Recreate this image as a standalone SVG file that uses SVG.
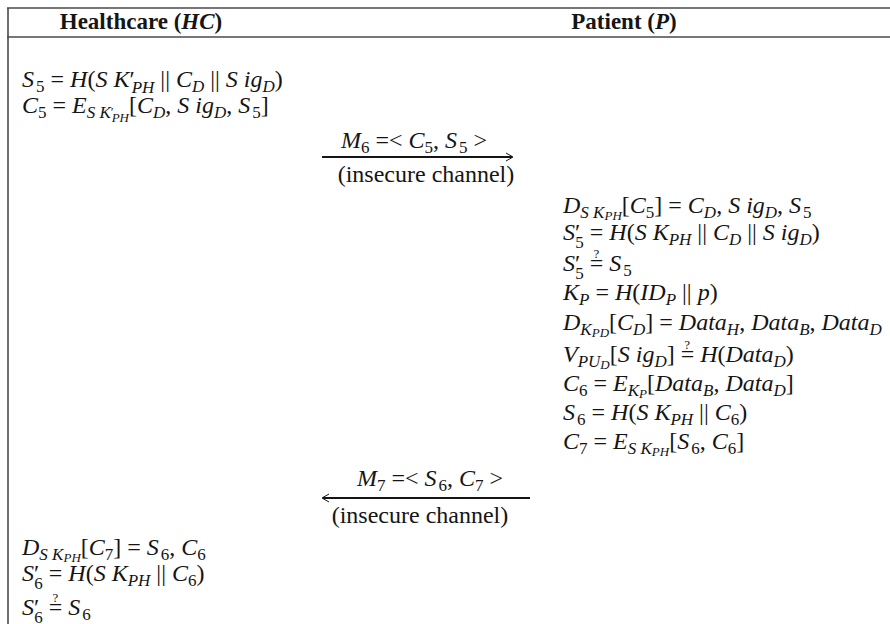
<svg xmlns="http://www.w3.org/2000/svg" width="890" height="624" viewBox="0 0 890 624">
  <style>
    .t { font-family: "Liberation Serif", "Times New Roman", serif; font-size: 24px; fill: #151515; }
    .h { font-family: "Liberation Serif", "Times New Roman", serif; font-size: 23px; font-weight: bold; fill: #151515; text-anchor: middle; }
    .i { font-style: italic; }
    .s { font-size: 17px; }
    .ss { font-size: 13px; }
    .q { font-size: 13px; }
    .rule { stroke: #4a4a4a; stroke-width: 1.6; fill: none; }
    .msg { stroke: #151515; stroke-width: 1.8; fill: none; }
    .head { stroke: #151515; stroke-width: 1; fill: none; }
  </style>

  <rect width="890" height="624" fill="#ffffff"/>

  <!-- table frame -->
  <g id="frame">
    <line class="rule" x1="7" y1="8" x2="890" y2="8"/>
    <line class="rule" x1="7" y1="37" x2="890" y2="37"/>
    <line class="rule" x1="8" y1="8" x2="8" y2="624"/>
  </g>

  <!-- column headers -->
  <g id="header">
    <text class="h" x="141" y="29">Healthcare (<tspan class="i">HC</tspan>)</text>
    <text class="h" x="624" y="29">Patient (<tspan class="i">P</tspan>)</text>
  </g>

  <!-- healthcare: build message M6 -->
  <g id="hc-send">
    <text class="t" x="22" y="87"><tspan class="i">S</tspan><tspan class="s" dx="2" dy="5">5</tspan><tspan dy="-5"> = </tspan><tspan class="i">H</tspan>(<tspan class="i">S K</tspan><tspan>′</tspan><tspan class="s i" dx="-3" dy="6">PH</tspan><tspan dy="-6"> || </tspan><tspan class="i">C</tspan><tspan class="s i" dy="5">D</tspan><tspan dy="-5"> || </tspan><tspan class="i">S ig</tspan><tspan class="s i" dy="5">D</tspan><tspan dy="-5">)</tspan></text>
    <text class="t" x="22" y="113"><tspan class="i">C</tspan><tspan class="s" dy="5">5</tspan><tspan dy="-5"> = </tspan><tspan class="i">E</tspan><tspan class="s i" dy="5">S K</tspan><tspan class="ss" dy="-2">′</tspan><tspan class="ss i" dx="-2" dy="6">PH</tspan><tspan dy="-9">[</tspan><tspan class="i">C</tspan><tspan class="s i" dy="5">D</tspan><tspan dy="-5">, </tspan><tspan class="i">S ig</tspan><tspan class="s i" dy="5">D</tspan><tspan dy="-5">, </tspan><tspan class="i">S</tspan><tspan class="s" dx="2" dy="5">5</tspan><tspan dy="-5">]</tspan></text>
  </g>

  <!-- patient: verify M6, build M7 -->
  <g id="p-process">
    <text class="t" x="563" y="213"><tspan class="i">D</tspan><tspan class="s i" dy="5">S K</tspan><tspan class="ss i" dy="2">PH</tspan><tspan dy="-7">[</tspan><tspan class="i">C</tspan><tspan class="s" dy="5">5</tspan><tspan dy="-5">] = </tspan><tspan class="i">C</tspan><tspan class="s i" dy="5">D</tspan><tspan dy="-5">, </tspan><tspan class="i">S ig</tspan><tspan class="s i" dy="5">D</tspan><tspan dy="-5">, </tspan><tspan class="i">S</tspan><tspan class="s" dx="2" dy="5">5</tspan></text>
    <text class="t" x="563" y="240"><tspan class="i">S</tspan><tspan>′</tspan><tspan class="s" dx="-5" dy="8">5</tspan><tspan dy="-8"> = </tspan><tspan class="i">H</tspan>(<tspan class="i">S K</tspan><tspan class="s i" dy="5">PH</tspan><tspan dy="-5"> || </tspan><tspan class="i">C</tspan><tspan class="s i" dy="5">D</tspan><tspan dy="-5"> || </tspan><tspan class="i">S ig</tspan><tspan class="s i" dy="5">D</tspan><tspan dy="-5">)</tspan></text>
    <text class="t" x="563" y="271"><tspan class="i">S</tspan><tspan>′</tspan><tspan class="s" dx="-5" dy="8">5</tspan><tspan dy="-8"> =</tspan><tspan class="q" dx="-9.9" dy="-13">?</tspan><tspan dx="4.1" dy="13"> </tspan><tspan class="i">S</tspan><tspan class="s" dx="2" dy="5">5</tspan></text>
    <text class="t" x="563" y="300"><tspan class="i">K</tspan><tspan class="s i" dy="5">P</tspan><tspan dy="-5"> = </tspan><tspan class="i">H</tspan>(<tspan class="i">ID</tspan><tspan class="s i" dy="5">P</tspan><tspan dy="-5"> || </tspan><tspan class="i">p</tspan>)</text>
    <text class="t" x="563" y="330"><tspan class="i">D</tspan><tspan class="s i" dy="5">K</tspan><tspan class="ss i" dy="2">PD</tspan><tspan dy="-7">[</tspan><tspan class="i">C</tspan><tspan class="s i" dy="5">D</tspan><tspan dy="-5">] = </tspan><tspan class="i">Data</tspan><tspan class="s i" dy="5">H</tspan><tspan dy="-5">, </tspan><tspan class="i">Data</tspan><tspan class="s i" dy="5">B</tspan><tspan dy="-5">, </tspan><tspan class="i">Data</tspan><tspan class="s i" dy="5">D</tspan></text>
    <text class="t" x="563" y="362"><tspan class="i">V</tspan><tspan class="s i" dy="5">PU</tspan><tspan class="ss i" dy="2">D</tspan><tspan dy="-7">[</tspan><tspan class="i">S ig</tspan><tspan class="s i" dy="5">D</tspan><tspan dy="-5">] =</tspan><tspan class="q" dx="-9.9" dy="-13">?</tspan><tspan dx="4.1" dy="13"> </tspan><tspan class="i">H</tspan>(<tspan class="i">Data</tspan><tspan class="s i" dy="5">D</tspan><tspan dy="-5">)</tspan></text>
    <text class="t" x="563" y="391"><tspan class="i">C</tspan><tspan class="s" dy="5">6</tspan><tspan dy="-5"> = </tspan><tspan class="i">E</tspan><tspan class="s i" dy="5">K</tspan><tspan class="ss i" dy="2">P</tspan><tspan dy="-7">[</tspan><tspan class="i">Data</tspan><tspan class="s i" dy="5">B</tspan><tspan dy="-5">, </tspan><tspan class="i">Data</tspan><tspan class="s i" dy="5">D</tspan><tspan dy="-5">]</tspan></text>
    <text class="t" x="563" y="420"><tspan class="i">S</tspan><tspan class="s" dx="2" dy="5">6</tspan><tspan dy="-5"> = </tspan><tspan class="i">H</tspan>(<tspan class="i">S K</tspan><tspan class="s i" dy="5">PH</tspan><tspan dy="-5"> || </tspan><tspan class="i">C</tspan><tspan class="s" dy="5">6</tspan><tspan dy="-5">)</tspan></text>
    <text class="t" x="563" y="449"><tspan class="i">C</tspan><tspan class="s" dy="5">7</tspan><tspan dy="-5"> = </tspan><tspan class="i">E</tspan><tspan class="s i" dy="5">S K</tspan><tspan class="ss i" dy="2">PH</tspan><tspan dy="-7">[</tspan><tspan class="i">S</tspan><tspan class="s" dx="2" dy="5">6</tspan><tspan dy="-5">, </tspan><tspan class="i">C</tspan><tspan class="s" dy="5">6</tspan><tspan dy="-5">]</tspan></text>
  </g>

  <!-- healthcare: verify M7 -->
  <g id="hc-verify">
    <text class="t" x="22" y="555"><tspan class="i">D</tspan><tspan class="s i" dy="5">S K</tspan><tspan class="ss i" dy="2">PH</tspan><tspan dy="-7">[</tspan><tspan class="i">C</tspan><tspan class="s" dy="5">7</tspan><tspan dy="-5">] = </tspan><tspan class="i">S</tspan><tspan class="s" dx="2" dy="5">6</tspan><tspan dy="-5">, </tspan><tspan class="i">C</tspan><tspan class="s" dy="5">6</tspan></text>
    <text class="t" x="22" y="581"><tspan class="i">S</tspan><tspan>′</tspan><tspan class="s" dx="-5" dy="8">6</tspan><tspan dy="-8"> = </tspan><tspan class="i">H</tspan>(<tspan class="i">S K</tspan><tspan class="s i" dy="5">PH</tspan><tspan dy="-5"> || </tspan><tspan class="i">C</tspan><tspan class="s" dy="5">6</tspan><tspan dy="-5">)</tspan></text>
    <text class="t" x="22" y="615"><tspan class="i">S</tspan><tspan>′</tspan><tspan class="s" dx="-5" dy="8">6</tspan><tspan dy="-8"> =</tspan><tspan class="q" dx="-9.9" dy="-13">?</tspan><tspan dx="4.1" dy="13"> </tspan><tspan class="i">S</tspan><tspan class="s" dx="2" dy="5">6</tspan></text>
  </g>

  <!-- messages over the insecure channel -->
  <g id="messages">
    <g id="msg-m6">
      <text class="t" x="414" y="148" text-anchor="middle"><tspan class="i">M</tspan><tspan class="s" dy="5">6</tspan><tspan dy="-5"> =&lt; </tspan><tspan class="i">C</tspan><tspan class="s" dy="5">5</tspan><tspan dy="-5">, </tspan><tspan class="i">S</tspan><tspan class="s" dx="2" dy="5">5</tspan><tspan dy="-5"> &gt;</tspan></text>
      <line class="msg" x1="322" y1="157" x2="512" y2="157"/>
      <path class="head" d="M506,153 L513,157 L506,161"/>
      <text class="t" x="426" y="182" text-anchor="middle">(insecure channel)</text>
    </g>
    <g id="msg-m7">
      <text class="t" x="430" y="486" text-anchor="middle"><tspan class="i">M</tspan><tspan class="s" dy="5">7</tspan><tspan dy="-5"> =&lt; </tspan><tspan class="i">S</tspan><tspan class="s" dx="2" dy="5">6</tspan><tspan dy="-5">, </tspan><tspan class="i">C</tspan><tspan class="s" dy="5">7</tspan><tspan dy="-5"> &gt;</tspan></text>
      <line class="msg" x1="323" y1="498" x2="530" y2="498"/>
      <path class="head" d="M329,494 L322,498 L329,502"/>
      <text class="t" x="420" y="523" text-anchor="middle">(insecure channel)</text>
    </g>
  </g>
</svg>
